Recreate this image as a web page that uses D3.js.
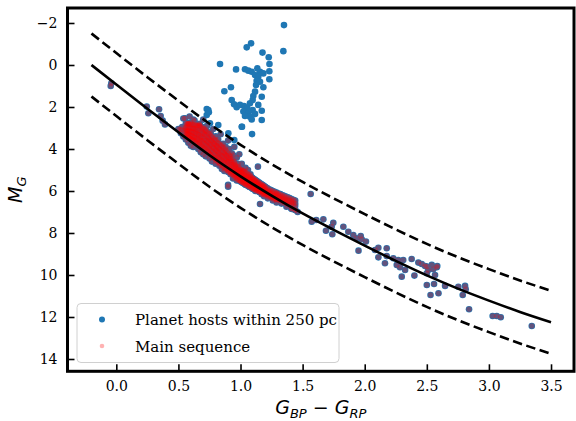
<!DOCTYPE html>
<html><head><meta charset="utf-8">
<script src="https://cdn.jsdelivr.net/npm/d3@7"></script>
<style>body{margin:0;background:#fff}svg{display:block}
.serif{font-family:"DejaVu Serif","Liberation Serif",serif}</style>
</head><body>
<script>
// ---- data ----
const xTicks = [0.0, 0.5, 1.0, 1.5, 2.0, 2.5, 3.0, 3.5];
const yTicks = [-2, 0, 2, 4, 6, 8, 10, 12, 14];
const curveColor = [-0.2,0,0.25,0.5,0.75,1.0,1.25,1.5,1.75,2.0,2.25,2.5,2.75,3.0,3.25,3.5];
const curveM  = [0.0,0.93,2.08,3.2,4.3,5.3,6.22,7.07,7.85,8.6,9.33,10.02,10.65,11.22,11.76,12.25];
const upperM  = [-1.5,-0.57,0.58,1.7,2.8,3.8,4.72,5.57,6.35,7.1,7.83,8.52,9.15,9.72,10.26,10.75];
const lowerM  = [1.5,2.43,3.58,4.7,5.8,6.8,7.72,8.57,9.35,10.1,10.83,11.52,12.15,12.72,13.26,13.75];
// hosts off the main sequence (blue only)
const offHosts = [
[1.35,-1.90],[1.085,-1.03],[1.05,-0.84],[1.177,-0.59],[1.345,-0.66],[1.227,-0.37],[0.835,-0.05],[1.233,-0.05],
[0.964,0.21],[1.036,0.20],[1.063,0.27],[1.09,0.32],[1.135,0.16],[1.157,0.32],[1.117,0.48],[1.143,0.56],[1.184,0.40],
[1.232,0.30],[1.232,0.68],[1.13,0.75],[1.157,0.80],[1.125,0.95],[1.184,1.06],[0.923,1.06],[0.87,1.25],[1.117,1.27],
[1.103,1.48],[1.171,1.51],[1.098,1.67],[1.076,1.82],[1.143,1.90],[1.171,2.18],[0.929,1.67],[0.948,1.87],[0.969,2.01],
[0.996,1.90],[1.028,1.95],[1.055,2.06],[1.023,2.22],[1.063,2.30],[1.098,2.14],[1.117,2.33],[1.076,2.46],[1.036,2.43],
[1.09,2.59],[1.171,2.62],[1.012,2.94],[1.093,3.29],[0.95,3.57],[0.728,2.10],[0.741,2.14],[0.728,2.38],[0.745,2.25],
[0.754,2.78],[0.821,2.86],[0.902,3.25],[1.01,2.94]
];
// hosts on the main sequence (blue + red), scattered members
const msHosts = [
[-0.04,0.87],[-0.045,1.0],[0.245,1.98],[0.258,2.3],[0.344,2.11],[0.357,2.43],[0.373,2.65],[0.392,2.83],[0.513,3.06],
[0.553,3.01],[0.58,2.78],[0.567,3.17],[0.553,2.54],[0.527,3.1],[0.54,2.55],[0.59,2.45],[0.67,2.85],[0.62,2.6],
[0.50,3.05],[0.52,3.25],[0.53,2.95],[0.54,3.4],[0.55,3.15],[0.56,3.55],[0.57,2.85],[0.57,3.3],[0.58,3.7],[0.59,3.1],[0.59,3.45],[0.60,2.75],[0.60,3.85],
[0.61,3.3],[0.61,3.6],[0.62,3.0],[0.62,3.9],[0.63,2.65],[0.63,3.45],[0.64,3.75],[0.64,3.15],[0.65,2.9],[0.65,3.55],[0.66,4.0],[0.66,3.3],[0.67,3.7],[0.67,2.8],[0.68,3.45],[0.68,4.15],[0.69,3.05],[0.69,3.85],[0.70,3.6],[0.70,4.25],[0.70,2.6],
[0.71,3.3],[0.71,3.95],[0.72,4.35],[0.72,3.15],[0.73,3.7],[0.73,2.9],[0.74,4.1],[0.74,3.45],[0.75,4.45],[0.75,3.85],[0.76,3.25],[0.76,4.25],[0.77,3.6],[0.77,4.6],[0.78,3.95],[0.78,3.05],[0.79,4.4],[0.79,3.75],[0.80,4.7],[0.80,4.1],[0.80,3.4],
[0.81,3.85],[0.81,4.5],[0.82,4.25],[0.82,3.55],[0.83,4.8],[0.83,4.0],[0.84,4.6],[0.84,3.3],[0.85,4.35],[0.85,4.95],[0.86,3.75],[0.86,4.7],[0.87,4.15],[0.87,5.05],[0.88,4.5],[0.88,3.9],[0.89,4.85],[0.89,4.3],[0.90,5.1],[0.90,4.6],[0.90,3.6],
[0.91,4.0],[0.91,4.95],[0.92,4.45],[0.92,5.2],[0.93,4.75],[0.93,4.2],[0.94,5.05],[0.94,5.4],[0.95,4.6],[0.95,3.9],[0.96,5.25],[0.96,4.85],[0.97,4.4],[0.97,5.5],[0.98,5.1],[0.98,4.7],[0.99,5.35],[0.99,4.25],[1.00,5.0],[1.00,5.55],
[1.01,5.25],[1.01,4.7],[1.02,5.6],[1.02,5.05],[1.03,5.4],[1.04,4.9],[1.04,5.7],[1.05,5.3],[1.06,5.55],[1.06,5.0],[1.07,5.8],[1.08,5.45],[1.08,5.2],[1.09,5.65],[1.10,5.9],[1.10,5.4],
[1.11,5.7],[1.12,5.5],[1.12,6.0],[1.13,5.8],[1.14,5.6],[1.15,6.05],[1.16,5.85],[1.17,6.15],[1.18,5.75],[1.18,6.0],[1.19,6.25],[1.20,5.95],
[1.21,6.15],[1.22,6.35],[1.23,6.05],[1.25,6.25],[1.26,6.45],[1.28,6.3],[1.29,6.55],[1.31,6.4],[1.33,6.6],[1.35,6.5],[1.37,6.75],[1.39,6.65],[1.41,6.85],[1.44,6.9],[1.46,7.0],
[0.94,4.29],[1.14,4.84],[0.90,5.71],[1.157,6.62],[0.90,5.8],[1.29,6.11],[1.565,6.14],
[1.41,6.83],[1.44,6.9],[1.573,7.46],[1.61,7.38],[1.667,7.35],[1.688,7.89],[1.734,7.7],[1.747,7.51],[1.739,8.06],[1.828,7.7],
[1.868,7.94],[1.908,8.1],[1.935,8.25],[1.968,8.14],[1.976,8.3],[2.01,8.41],[1.95,8.84],[2.083,8.81],[2.11,8.7],[2.177,8.73],
[2.11,9.16],[2.177,9.1],[2.23,9.2],[2.27,9.29],[2.31,9.29],[2.163,9.44],[2.258,9.52],[2.284,9.63],[2.325,9.76],[2.378,9.24],
[2.432,9.41],[2.459,9.48],[2.486,9.57],[2.54,9.52],[2.58,9.63],[2.298,10.08],[2.4,10.03],[2.5,9.92],[2.566,10.0],
[2.5,9.6],[2.584,9.57],[2.512,9.76],[2.552,9.73],[2.5,10.48],[2.558,10.43],[2.647,10.52],[2.754,10.56],[2.808,10.52],
[2.813,10.68],[2.53,10.95],[2.594,10.87],[2.789,10.95],[2.84,11.63],[3.03,11.95],[3.063,11.95],[3.095,12.01],[3.345,12.43]
];
// dense core of the main sequence: colour of each column and the magnitudes of the hosts in it
const coreColor = [0.56,0.58,0.60,0.62,0.64,0.66,0.68,0.70,0.72,0.74,0.76,0.78,0.80,0.82,0.84,0.86,0.88,0.90,0.92,0.94,0.96,0.98,
  1.00,1.02,1.04,1.06,1.08,1.10,1.12,1.14,1.16,1.18,1.20,1.23,1.26,1.29,1.32,1.35,1.38,1.41,1.44];
const coreMags = [
[2.78,2.95,3.1,3.25,3.38],[2.8,2.98,3.15,3.3,3.45],[2.82,3.0,3.18,3.36,3.52],[2.84,3.03,3.22,3.42,3.6],[2.86,3.06,3.27,3.48,3.68],
[2.88,3.1,3.32,3.55,3.76],[2.92,3.15,3.38,3.6,3.84],[3.0,3.24,3.47,3.7,3.94],[3.1,3.33,3.57,3.8,4.03],[3.22,3.46,3.68,3.92,4.15],
[3.35,3.58,3.8,4.05,4.28],[3.48,3.7,3.93,4.17,4.4],[3.6,3.83,4.06,4.3,4.53],[3.7,3.93,4.16,4.4,4.63],[3.8,4.03,4.27,4.5,4.73],
[3.92,4.15,4.38,4.6,4.84],[4.05,4.27,4.5,4.72,4.94],[4.2,4.4,4.62,4.83,5.04],[4.35,4.55,4.75,4.95,5.14],[4.55,4.72,4.9,5.08,5.24],
[4.75,4.9,5.05,5.2,5.34],[4.85,5.0,5.15,5.3,5.45],[4.95,5.1,5.25,5.4,5.54],[5.02,5.17,5.32,5.47,5.62],[5.1,5.25,5.4,5.55,5.69],
[5.2,5.34,5.48,5.62,5.76],[5.3,5.43,5.56,5.69,5.82],[5.39,5.52,5.65,5.77,5.89],[5.48,5.6,5.72,5.84,5.95],[5.56,5.68,5.8,5.9,6.0],
[5.65,5.75,5.86,5.96,6.05],[5.72,5.83,5.93,6.03,6.12],[5.8,5.9,6.0,6.1,6.18],[5.92,6.02,6.12,6.22,6.28],[6.0,6.1,6.2,6.3,6.36],
[6.08,6.18,6.28,6.38,6.43],[6.15,6.25,6.35,6.45],[6.23,6.33,6.43,6.55],[6.3,6.42,6.53,6.63],[6.38,6.5,6.62],[6.45,6.6,6.72]
];
const core2Color = [0.57,0.59,0.61,0.63,0.65,0.67,0.69,0.71,0.73,0.75,0.77,0.79,0.81,0.83,0.85,0.87,0.89,0.91,0.93,0.95,0.97,0.99,
  1.01,1.03,1.05,1.07,1.09,1.11,1.13,1.15,1.17,1.19,1.215,1.245,1.275,1.305,1.335,1.365,1.395,1.425];
const core2Mags = [
[2.8,2.97,3.12,3.28,3.42],[2.81,2.99,3.17,3.33,3.49],[2.83,3.02,3.2,3.39,3.56],[2.85,3.05,3.25,3.45,3.64],[2.87,3.08,3.3,3.52,3.72],
[2.9,3.12,3.35,3.58,3.8],[2.96,3.2,3.43,3.65,3.89],[3.05,3.28,3.52,3.75,3.98],[3.16,3.4,3.62,3.86,4.09],[3.28,3.52,3.74,3.98,4.22],
[3.42,3.64,3.87,4.11,4.34],[3.54,3.77,4.0,4.24,4.47],[3.65,3.88,4.11,4.35,4.58],[3.75,3.98,4.22,4.45,4.68],[3.86,4.09,4.32,4.55,4.79],
[3.98,4.21,4.44,4.66,4.89],[4.12,4.33,4.56,4.78,4.99],[4.27,4.47,4.68,4.89,5.09],[4.45,4.63,4.82,5.01,5.19],[4.65,4.81,4.97,5.14,5.29],
[4.8,4.95,5.1,5.25,5.4],[4.9,5.05,5.2,5.35,5.5],[4.98,5.13,5.28,5.43,5.58],[5.06,5.21,5.36,5.51,5.66],[5.15,5.3,5.44,5.58,5.72],
[5.25,5.38,5.52,5.65,5.79],[5.35,5.48,5.6,5.73,5.86],[5.43,5.56,5.68,5.8,5.92],[5.52,5.64,5.76,5.87,5.98],[5.6,5.72,5.83,5.93,6.02],
[5.68,5.79,5.9,6.0,6.08],[5.76,5.86,5.96,6.06,6.15],[5.86,5.96,6.06,6.16,6.23],[5.96,6.06,6.16,6.26,6.32],[6.04,6.14,6.24,6.34,6.4],
[6.12,6.22,6.32,6.42],[6.19,6.29,6.39,6.5],[6.27,6.38,6.48,6.59],[6.34,6.46,6.58],[6.42,6.55,6.67]
];
const legendLabels = ["Planet hosts within 250 pc", "Main sequence"];

// ---- chart ----
const corePts = [];
coreColor.forEach((c, i) => coreMags[i].forEach(m => corePts.push([c, m])));
core2Color.forEach((c, i) => core2Mags[i].forEach(m => corePts.push([c, m])));
const mainSeq = msHosts.concat(corePts);

const W = 576, H = 421;
const svg = d3.select("body").append("svg").attr("width", W).attr("height", H);
const L = 67.5, R = 574, T = 8, B = 371.3;
const x = d3.scaleLinear().domain([-0.393, 3.685]).range([L, R]);
const y = d3.scaleLinear().domain([-2.714, 14.586]).range([T, B]);
const blue = "#1f77b4";

const g = svg.append("g");
g.append("defs").append("clipPath").attr("id","clip").append("rect")
  .attr("x", L).attr("y", T).attr("width", R-L).attr("height", B-T);
const plot = g.append("g").attr("clip-path","url(#clip)");

plot.selectAll("circle.b").data(offHosts.concat(mainSeq)).join("circle")
  .attr("cx", d => x(d[0])).attr("cy", d => y(d[1])).attr("r", 3.3).attr("fill", blue);
plot.selectAll("circle.r").data(mainSeq).join("circle")
  .attr("cx", d => x(d[0])).attr("cy", d => y(d[1])).attr("r", 2.75)
  .attr("fill", "red").attr("fill-opacity", 0.3);

function drawLine(arr, dash) {
  const line = d3.line().x((d,i) => x(curveColor[i])).y(d => y(d)).curve(d3.curveMonotoneX);
  plot.append("path").attr("d", line(arr)).attr("fill","none").attr("stroke","#000")
    .attr("stroke-width", 2.6).attr("stroke-dasharray", dash || null);
}
drawLine(curveM);
drawLine(upperM, "9.5,4.5");
drawLine(lowerM, "9.5,4.5");

// axes
const xa = d3.axisBottom(x).tickValues(xTicks).tickSize(-7).tickPadding(10).tickFormat(d3.format(".1f"));
const ya = d3.axisLeft(y).tickValues(yTicks).tickSize(-7).tickPadding(10).tickFormat(d => d < 0 ? "\u2212" + Math.abs(d) : d);
const gx = g.append("g").attr("transform", `translate(0,${B})`).call(xa);
const gy = g.append("g").attr("transform", `translate(${L},0)`).call(ya);
[gx, gy].forEach(a => {
  a.attr("font-family", null);
  a.select(".domain").remove();
  a.selectAll(".tick line").attr("stroke","#000").attr("stroke-width",1.6);
  a.selectAll(".tick text").attr("class","serif").attr("font-size",14).attr("fill","#000");
});
gx.selectAll(".tick text").attr("dy","0.71em");
g.append("rect").attr("x", L).attr("y", T).attr("width", R-L).attr("height", B-T)
  .attr("fill","none").attr("stroke","#000").attr("stroke-width",3);

// axis labels
const xl = svg.append("text").attr("x", (L+R)/2).attr("y", 414).attr("text-anchor","middle")
  .attr("font-family","DejaVu Sans").attr("font-size",19).attr("font-style","italic");
xl.append("tspan").text("G");
xl.append("tspan").attr("font-size",13).attr("dy",4).text("BP");
xl.append("tspan").attr("dy",-4).attr("font-style","normal").text(" \u2212 ");
xl.append("tspan").text("G");
xl.append("tspan").attr("font-size",13).attr("dy",4).text("RP");

const yl = svg.append("text").attr("transform", `translate(22,${(T+B)/2}) rotate(-90)`).attr("text-anchor","middle")
  .attr("font-family","DejaVu Sans").attr("font-size",19).attr("font-style","italic");
yl.append("tspan").text("M");
yl.append("tspan").attr("font-size",13).attr("dy",4).text("G");

// legend
const lg = svg.append("g");
lg.append("rect").attr("x",77).attr("y",303.5).attr("width",262).attr("height",59).attr("rx",4)
  .attr("fill","#fff").attr("fill-opacity",0.8).attr("stroke","#d0d0d0").attr("stroke-width",1);
lg.append("circle").attr("cx",102).attr("cy",319.5).attr("r",3).attr("fill",blue);
lg.append("circle").attr("cx",102).attr("cy",346).attr("r",2.3).attr("fill","red").attr("fill-opacity",0.3);
legendLabels.forEach((t,i) => {
  lg.append("text").attr("x",135).attr("y",325 + i*26.5).attr("class","serif")
    .attr("font-size",15).attr("fill","#000").text(t);
});
</script>
</body></html>
